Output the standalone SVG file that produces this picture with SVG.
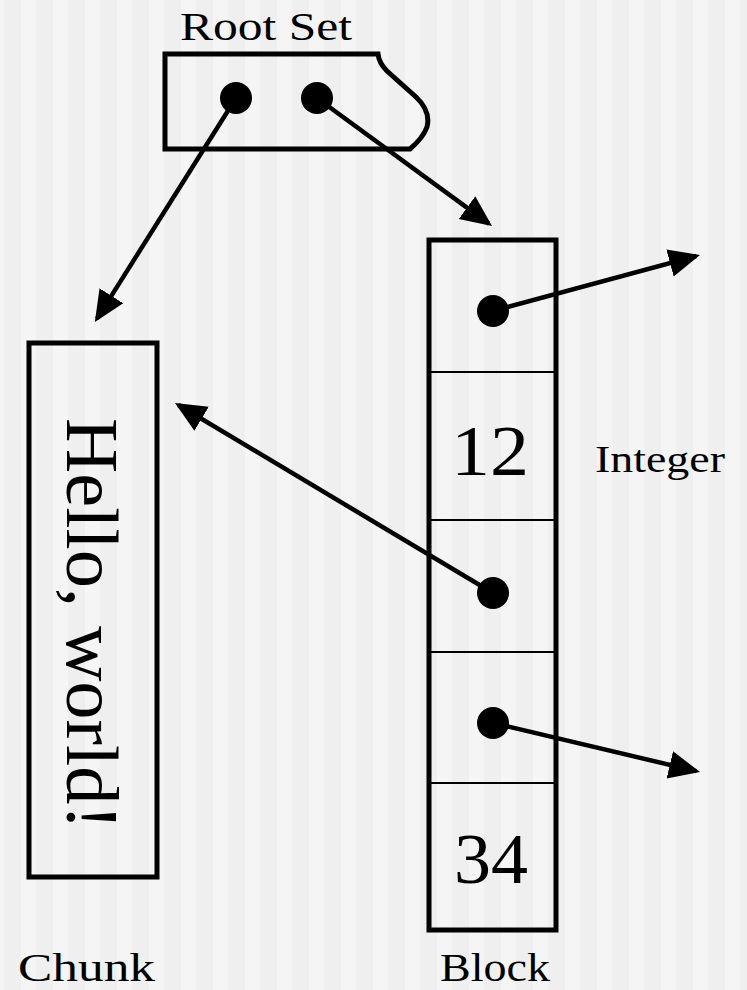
<svg xmlns="http://www.w3.org/2000/svg" width="747" height="990" viewBox="0 0 747 990">
  <style>
    .box { fill: none; stroke: #000; stroke-width: 5; }
    .sep { stroke: #000; stroke-width: 2; }
    .ptr { stroke: #000; stroke-width: 4.5; fill: none; marker-end: url(#head); }
    .dot { fill: #000; }
    .lbl { font-family: "Liberation Serif", "Times New Roman", serif; fill: #000; }
  </style>
  <defs>
    <pattern id="stripes" x="0" y="0" width="32" height="990" patternUnits="userSpaceOnUse">
      <rect width="32" height="990" fill="#f5f5f5"/>
      <rect x="4" width="17" height="990" fill="#efefef"/>
    </pattern>
    <marker id="head" markerUnits="userSpaceOnUse" markerWidth="36" markerHeight="32" viewBox="0 -16 36 32" refX="27" refY="0" orient="auto">
      <path d="M0,-14 L31,0 L0,14 Z" fill="#000"/>
    </marker>
  </defs>

  <rect width="747" height="990" fill="url(#stripes)"/>

  <!-- root set: box with a torn right edge -->
  <g id="root-set">
    <path class="box" d="M165,54 H378 Q379,63 387,71 L416,97 Q431,111 427,127 Q423,138 410,149 H165 Z"/>
    <circle class="dot" cx="236" cy="98" r="16"/>
    <circle class="dot" cx="317" cy="98" r="16"/>
    <text class="lbl" x="180" y="40" font-size="40" textLength="172" lengthAdjust="spacingAndGlyphs">Root Set</text>
  </g>

  <!-- chunk holding a string -->
  <g id="chunk">
    <rect class="box" x="29" y="343" width="128" height="534"/>
    <text class="lbl" x="67" y="418" font-size="75" textLength="412" lengthAdjust="spacingAndGlyphs" transform="rotate(90 67 418)">Hello, world!</text>
    <text class="lbl" x="18" y="981" font-size="39" textLength="137" lengthAdjust="spacingAndGlyphs">Chunk</text>
  </g>

  <!-- block of five slots -->
  <g id="block">
    <rect class="box" x="429" y="240" width="127" height="690"/>
    <line class="sep" x1="429" y1="372" x2="556" y2="372"/>
    <line class="sep" x1="429" y1="520" x2="556" y2="520"/>
    <line class="sep" x1="429" y1="652" x2="556" y2="652"/>
    <line class="sep" x1="429" y1="783" x2="556" y2="783"/>
    <circle class="dot" cx="493" cy="311" r="16"/>
    <text class="lbl" x="490" y="475" font-size="72" text-anchor="middle" textLength="78" lengthAdjust="spacingAndGlyphs">12</text>
    <circle class="dot" cx="493" cy="593" r="16"/>
    <circle class="dot" cx="493" cy="723" r="16"/>
    <text class="lbl" x="491" y="883" font-size="72" text-anchor="middle" textLength="74" lengthAdjust="spacingAndGlyphs">34</text>
    <text class="lbl" x="440" y="981" font-size="39" textLength="110" lengthAdjust="spacingAndGlyphs">Block</text>
  </g>

  <g id="integer-label">
    <text class="lbl" x="595" y="472" font-size="38" textLength="130" lengthAdjust="spacingAndGlyphs">Integer</text>
  </g>

  <!-- pointers -->
  <g id="connectors">
    <line class="ptr" x1="236" y1="98" x2="97" y2="318.6"/>
    <line class="ptr" x1="317" y1="98" x2="488.8" y2="223.6"/>
    <line class="ptr" x1="493" y1="311" x2="696.1" y2="256"/>
    <line class="ptr" x1="493" y1="593" x2="178.4" y2="405"/>
    <line class="ptr" x1="493" y1="723" x2="696.1" y2="771.1"/>
  </g>
</svg>
